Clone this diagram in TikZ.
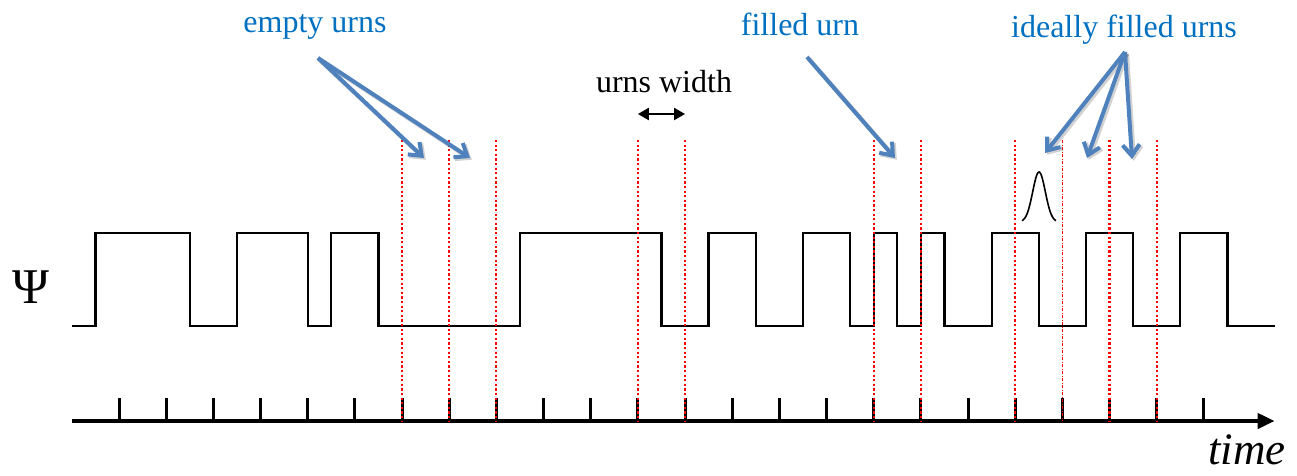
\documentclass[tikz,border=0pt]{standalone}
\usepackage{fontspec}
\setmainfont{Liberation Serif}
\usetikzlibrary{arrows.meta}

\definecolor{labelblue}{HTML}{0070C0}
\definecolor{arrowblue}{HTML}{4F81BD}
\definecolor{urnred}{HTML}{FF0000}

\tikzset{
  signal/.style={line width=2.3pt, line join=miter},
  urnline/.style={urnred, line width=2.2pt, dash pattern=on 2.2pt off 2.4pt},
  urnlinethin/.style={urnred, line width=1.3pt, dash pattern=on 3pt off 1.5pt on 1pt off 1.5pt},
  tickmark/.style={line width=3pt},
  timeaxis/.style={line width=4pt, -{Triangle[length=17pt,width=15pt]}},
  bluetext/.style={text=labelblue, font=\fontsize{32}{38}\selectfont, anchor=base, inner sep=0pt},
  blacktext/.style={text=black, font=\fontsize{32}{38}\selectfont, anchor=base, inner sep=0pt},
  pointer/.style={arrowblue, line width=4pt, -{Straight Barb[length=11pt,width=17pt]}},
  pointershadow/.style={black, opacity=.18, line width=4.5pt, -{Straight Barb[length=11pt,width=17pt]},
    transform canvas={shift={(1.8pt,-1.8pt)}}},
  widtharrow/.style={line width=2.2pt, {Triangle[length=11pt,width=12pt]}-{Triangle[length=11pt,width=12pt]}},
}

\begin{document}
\begin{tikzpicture}[x=1pt, y=-1pt]
  \useasboundingbox (0,0) rectangle (1297,475);

  % labels
  \node[bluetext] (empty) at (315,32) {empty urns};
  \node[bluetext] (filled) at (800,35) {filled urn};
  \node[bluetext] (ideal) at (1124,37) {ideally filled urns};
  \node[blacktext] (uwidth) at (664,92) {urns width};
  \node[anchor=base, inner sep=0pt, font=\fontsize{50}{60}\selectfont] (psi) at (31,303) {Ψ};
  \node[anchor=base, inner sep=0pt, font=\fontsize{45}{54}\selectfont\itshape] (time) at (1247,464) {time};

  % time grid: one unit per sampling tick
  \begin{scope}[xshift=119pt, x=47.17pt]
    \coordinate (axisstart) at (-1,421);
    \coordinate (axisend) at (24.5,421);
    \draw[timeaxis] (axisstart) -- (axisend);
    \foreach \k in {0,...,23}
      \draw[tickmark] (\k,398) -- (\k,421);

    % the signal Psi(t)
    \draw[signal] (-1,326) -| (-0.5,233) -| (1.5,326) -| (2.5,233) -| (4,326)
      -| (4.5,233) -| (5.5,326) -| (8.5,233) -| (11.5,326) -| (12.5,233)
      -| (13.5,326) -| (14.5,233) -| (15.5,326) -| (16,233) -| (16.5,326)
      -| (17,233) -| (17.5,326) -| (18.5,233) -| (19.5,326) -| (20.5,233)
      -| (21.5,326) -| (22.5,233) -| (23.5,326) -- (24.5,326);

    % urn borders
    \foreach \k in {6,7,8,11,12,16,17,19,21,22}
      \draw[urnline] (\k,140) -- (\k,421);
    \draw[urnlinethin] (20,140) -- (20,421);

    \coordinate (uwL) at (11,114);
    \coordinate (uwR) at (12,114);
  \end{scope}

  % ideal pulse shape
  \draw[line width=1.6pt] plot[smooth, domain=-17:17, samples=61]
    ({1039+\x},{222-50*exp(-0.5*(\x/6.3)*(\x/6.3))});

  % urns width marker
  \draw[widtharrow] (uwL) -- (uwR);

  % pointer origins and tips
  \coordinate (emptyO) at (318,58);
  \coordinate (emptyA) at (424,158);
  \coordinate (emptyB) at (470,158);
  \coordinate (filledO) at (807,57);
  \coordinate (filledA) at (895,158);
  \coordinate (idealO) at (1125,52);
  \coordinate (idealA) at (1045,153);
  \coordinate (idealB) at (1087,158);
  \coordinate (idealC) at (1132,159);

  \foreach \o/\t in {emptyO/emptyA, emptyO/emptyB, filledO/filledA,
                     idealO/idealA, idealO/idealB, idealO/idealC}
    \draw[pointershadow] (\o) -- (\t);
  \foreach \o/\t in {emptyO/emptyA, emptyO/emptyB, filledO/filledA,
                     idealO/idealA, idealO/idealB, idealO/idealC}
    \draw[pointer] (\o) -- (\t);
\end{tikzpicture}
\end{document}
